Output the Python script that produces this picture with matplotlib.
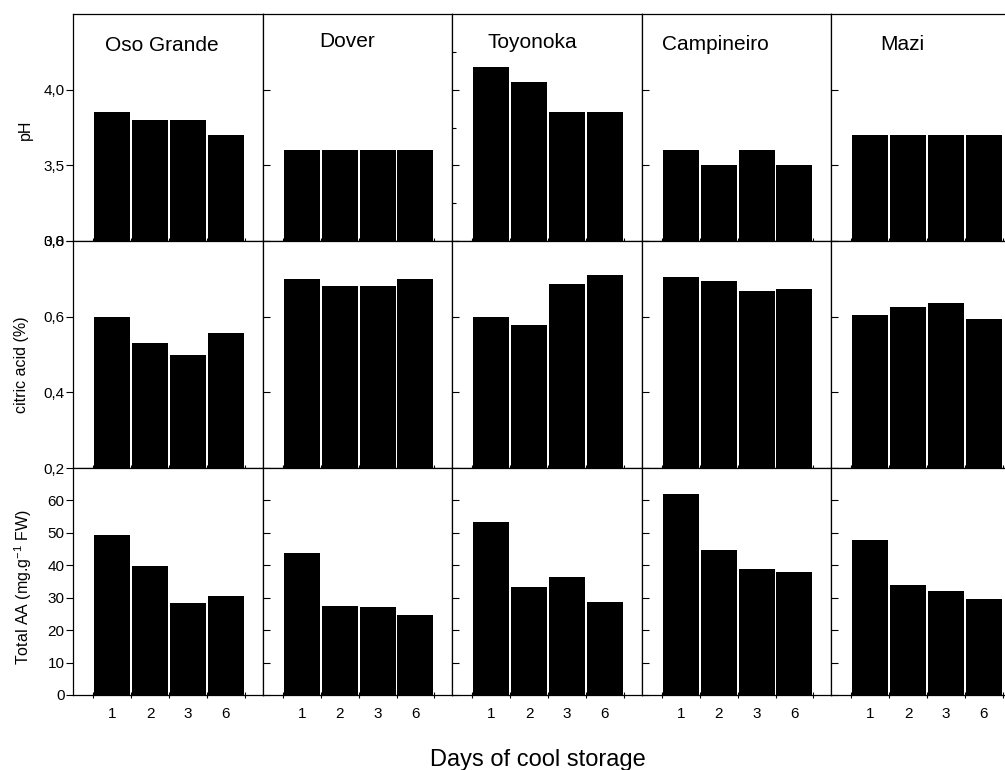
"""Strawberry cultivars: pH, citric acid and total AA over days of cool storage."""
import numpy as np
import matplotlib

matplotlib.use("Agg")
import matplotlib.pyplot as plt
from matplotlib.ticker import FixedLocator, FixedFormatter, FuncFormatter

plt.rcParams["font.family"] = ["Liberation Sans", "DejaVu Sans"]
plt.rcParams["mathtext.fontset"] = "custom"
plt.rcParams["mathtext.rm"] = "Liberation Sans"
plt.rcParams["mathtext.default"] = "regular"

CULTIVARS = ["Oso Grande", "Dover", "Toyonoka", "Campineiro", "Mazi"]
DAYS = ["1", "2", "3", "6"]

PH = [
    [3.85, 3.80, 3.80, 3.70],
    [3.60, 3.60, 3.60, 3.60],
    [4.15, 4.05, 3.85, 3.85],
    [3.60, 3.50, 3.60, 3.50],
    [3.70, 3.70, 3.70, 3.70],
]
CITRIC = [
    [0.600, 0.530, 0.500, 0.558],
    [0.700, 0.680, 0.680, 0.700],
    [0.600, 0.577, 0.686, 0.710],
    [0.704, 0.693, 0.668, 0.674],
    [0.605, 0.626, 0.635, 0.595],
]
TOTAL_AA = [
    [49.4, 39.7, 28.5, 30.6],
    [43.8, 27.4, 27.2, 24.8],
    [53.4, 33.4, 36.4, 28.7],
    [62.1, 44.8, 38.9, 38.0],
    [47.8, 34.0, 32.0, 29.5],
]

PH_TICKS = [3.0, 3.5, 4.0]
PH_LABELS = ["3,0", "3,5", "4,0"]
CITRIC_TICKS = [0.2, 0.4, 0.6, 0.8]
CITRIC_LABELS = ["0,2", "0,4", "0,6", "0,8"]
AA_TICKS = [0, 10, 20, 30, 40, 50, 60]
AA_LABELS = ["0", "10", "20", "30", "40", "50", "60"]

ROWS = [
    (PH, (3.0, 4.5), PH_TICKS, PH_LABELS),
    (CITRIC, (0.2, 0.8), CITRIC_TICKS, CITRIC_LABELS),
    (TOTAL_AA, (0, 70), AA_TICKS, AA_LABELS),
]
YLABELS = ["pH", "citric acid (%)", r"Total AA (mg.g$^{-1}$ FW)"]

# title placement (axes fraction, baseline)
TITLE_POS = [(0.47, 0.838), (0.447, 0.856), (0.425, 0.849),
             (0.39, 0.841), (0.374, 0.841)]

FW, FH = 1005, 770


def px_rect(x, y_top, w, h):
    return [x / FW, 1 - (y_top + h) / FH, w / FW, h / FH]


def main() -> None:
    fig = plt.figure(figsize=(FW / 100, FH / 100), dpi=100)
    left, col_w, top, row_h = 73, 189.5, 14, 227
    x = np.arange(1, len(DAYS) + 1)
    edges = list(x - 0.5) + [x[-1] + 0.5]

    for r, (data, ylim, yticks, ylabels) in enumerate(ROWS):
        for c, name in enumerate(CULTIVARS):
            ax = fig.add_axes(px_rect(left + c * col_w, top + r * row_h,
                                      col_w, row_h))
            ax.bar(x, data[c], width=0.95, color="black", linewidth=0)
            ax.set_xlim(-0.036, 4.964)
            ax.set_ylim(*ylim)
            for sp in ax.spines.values():
                sp.set_linewidth(0.9)
                sp.set_color("black")

            ax.xaxis.set_major_locator(FixedLocator(edges))
            ax.xaxis.set_minor_locator(FixedLocator(x))
            ax.tick_params(axis="x", which="major", direction="inout",
                           length=5, width=0.8, labelbottom=False)
            if r == len(ROWS) - 1:
                ax.xaxis.set_minor_formatter(
                    FuncFormatter(lambda v, p: DAYS[int(round(v)) - 1]))
                ax.tick_params(axis="x", which="minor", length=0, pad=9,
                               labelsize=11)
            else:
                ax.tick_params(axis="x", which="minor", length=0,
                               labelbottom=False)

            ax.yaxis.set_major_locator(FixedLocator(yticks))
            if c == 0:
                ax.yaxis.set_major_formatter(FixedFormatter(ylabels))
                ax.tick_params(axis="y", direction="out", length=5,
                               width=0.8, pad=1, labelsize=11)
            else:
                ax.tick_params(axis="y", direction="in", length=5,
                               width=0.8, labelleft=False)
            if r == 0 and c == 2:
                ax.yaxis.set_minor_locator(FixedLocator([3.25, 3.75, 4.25]))
                ax.tick_params(axis="y", which="minor", direction="in",
                               length=3, width=0.8)

            if r == 0:
                tx, ty = TITLE_POS[c]
                ax.text(tx, ty, name, transform=ax.transAxes, ha="center",
                        va="baseline", fontsize=15)

    fig.text(25 / FW, 1 - 130 / FH, YLABELS[0], rotation=90,
             ha="center", va="center", fontsize=11.5)
    fig.text(21.7 / FW, 1 - 365 / FH, YLABELS[1], rotation=90,
             ha="center", va="center", fontsize=11.5)
    fig.text(23 / FW, 1 - 587 / FH, YLABELS[2], rotation=90,
             ha="center", va="center", fontsize=11.5)

    fig.text(537.5 / FW, 1 - 766 / FH, "Days of cool storage",
             ha="center", va="baseline", fontsize=17)

    fig.savefig("out.png", dpi=100)
    plt.close(fig)


if __name__ == "__main__":
    main()
